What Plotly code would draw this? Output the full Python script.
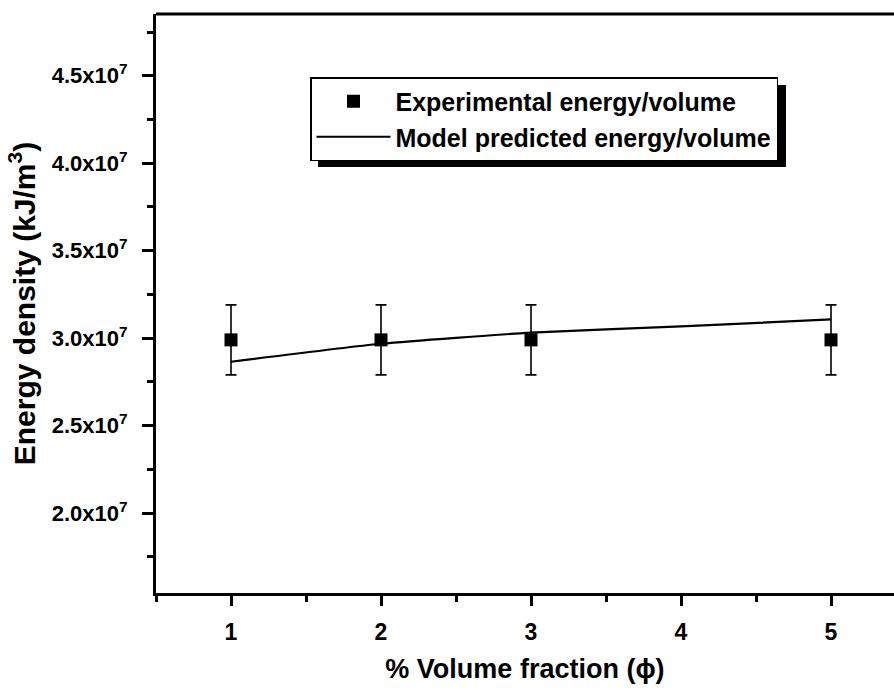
import plotly.graph_objects as go

# ---- data ----
x_exp = [1, 2, 3, 5]
y_exp = [2.99e7, 2.99e7, 2.99e7, 2.99e7]
err_exp = [0.2e7, 0.2e7, 0.2e7, 0.2e7]

x_model = [1, 2, 3, 4, 5]
y_model = [2.865e7, 2.968e7, 3.031e7, 3.067e7, 3.107e7]

x_ticks = [1, 2, 3, 4, 5]
x_tick_labels = ["1", "2", "3", "4", "5"]
y_ticks = [2.0e7, 2.5e7, 3.0e7, 3.5e7, 4.0e7, 4.5e7]
y_tick_labels = ["2.0x10<sup>7</sup>", "2.5x10<sup>7</sup>", "3.0x10<sup>7</sup>",
                 "3.5x10<sup>7</sup>", "4.0x10<sup>7</sup>", "4.5x10<sup>7</sup>"]

FONT = "Liberation Sans, Arial, sans-serif"

fig = go.Figure()
fig.add_trace(go.Scatter(
    x=x_exp, y=y_exp, mode="markers", name="Experimental energy/volume",
    marker=dict(symbol="square", size=13, color="black"),
    error_y=dict(type="data", array=err_exp, visible=True, color="black",
                 thickness=1.6, width=5.5),
))
fig.add_trace(go.Scatter(
    x=x_model, y=y_model, mode="lines", name="Model predicted energy/volume",
    line=dict(color="black", width=2.2, shape="spline", smoothing=0.6),
))

W, H = 894, 696
ml, mr, mt, mb = 156, 0, 14, 103
pw, ph = W - ml - mr, H - mt - mb

def px_x(p):
    return (p - ml) / pw

def px_y(p):
    return (H - mb - p) / ph

# legend shadow (offset copy of the legend box)
fig.add_shape(type="rect", xref="paper", yref="paper",
              x0=px_x(318), x1=px_x(786), y0=px_y(167), y1=px_y(85),
              fillcolor="black", line=dict(width=0), layer="above")

fig.update_layout(
    width=W, height=H,
    margin=dict(l=ml, r=mr, t=mt, b=mb, pad=0),
    paper_bgcolor="white", plot_bgcolor="white",
    font=dict(family=FONT, color="black", size=21, weight="bold"),
    showlegend=True,
    legend=dict(
        x=px_x(310), y=px_y(77), xanchor="left", yanchor="top",
        bgcolor="white", bordercolor="black", borderwidth=1.5,
        font=dict(family=FONT, size=25, color="black", weight="bold"),
        itemwidth=74, tracegroupgap=0,
    ),
    xaxis=dict(
        range=[0.5, 5.42], tickvals=x_ticks, ticktext=x_tick_labels,
        ticks="outside", ticklen=10, tickwidth=2.5, tickcolor="black",
        showline=True, linecolor="black", linewidth=3, mirror=False,
        showgrid=False, zeroline=False,
        minor=dict(dtick=0.5, ticks="outside", ticklen=6, tickwidth=2.5, tickcolor="black", tick0=0.5),
        tickfont=dict(size=23, weight="bold"),
        ticklabelstandoff=6,
        title=dict(text="% Volume fraction (\u03d5)", font=dict(size=27, weight="bold"), standoff=16),
    ),
    yaxis=dict(
        range=[1.543e7, 4.853e7], tickvals=y_ticks, ticktext=y_tick_labels,
        ticks="outside", ticklen=11, tickwidth=2.5, tickcolor="black",
        showline=True, linecolor="black", linewidth=3, mirror=False,
        showgrid=False, zeroline=False,
        minor=dict(dtick=0.5e7, tick0=1.75e7, ticks="outside", ticklen=6, tickwidth=2.5, tickcolor="black"),
        tickfont=dict(size=22, weight="bold"),
        ticklabelstandoff=10,
        title=dict(text="Energy density (kJ/m<sup>3</sup>)", font=dict(size=30, weight="bold"), standoff=8),
    ),
)

# top border line (frame top only, as in reference)
fig.add_shape(type="line", xref="paper", yref="paper", x0=0, x1=1, y0=1, y1=1,
              line=dict(color="black", width=3))

fig.write_html("out.html")
